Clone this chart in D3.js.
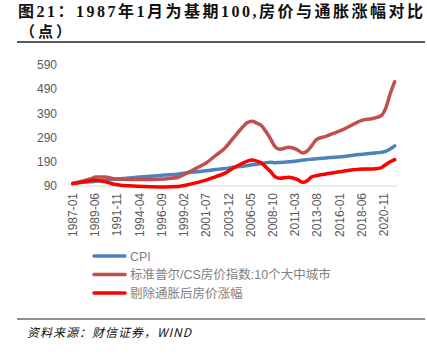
<!DOCTYPE html>
<html>
<head>
<meta charset="utf-8">
<script src="https://cdn.jsdelivr.net/npm/d3@7"></script>
<style>
  body { margin: 0; background: #fff; }
  svg { display: block; }
</style>
</head>
<body>
<svg id="chart" width="427" height="358"></svg>
<script>
// months since 1987-01 where values were read
var months = [0, 12, 24, 30, 42, 54, 66, 84, 102, 120, 138, 150, 162, 174, 186, 198, 210, 222, 228, 234,
              240, 246, 252, 258, 264, 270, 282, 294, 300, 306, 312, 318, 330, 342, 354, 366, 378, 390, 402, 408, 414, 420];

var cpi = [100, 104, 108, 110, 114, 118, 121, 126, 130, 135, 140, 145, 149, 153, 158, 162, 168, 172, 175, 178,
           180, 183, 186, 188, 186, 187, 190, 194, 197, 199, 201, 203, 206, 209, 212, 217, 221, 225, 229, 233, 243, 256];

var csIndex = [100, 110, 120, 127, 127, 120, 118, 117, 117, 119, 127, 145, 165, 185, 215, 245, 290, 335, 352, 358,
               350, 340, 315, 285, 252, 242, 250, 238, 226, 235, 258, 282, 295, 310, 325, 345, 362, 368, 380, 410, 470, 521];

var realPrice = [100, 106, 112, 114, 108, 97, 92, 89, 87, 86, 88, 95, 104, 114, 128, 142, 165, 185, 193, 197,
                 193, 185, 168, 150, 128, 122, 126, 115, 105, 112, 128, 133, 140, 146, 152, 157, 160, 160, 165, 178, 190, 199];

var yTicks = [90, 190, 290, 390, 490, 590];
var xTickMonths = [0, 29, 58, 87, 116, 145, 174, 203, 232, 261, 290, 319, 348, 377, 406];

var seriesNames = ['CPI', '标准普尔/CS房价指数:10个大中城市', '剔除通胀后房价涨幅'];
var seriesColors = ['#4f81bd', '#c0504d', '#ff0000'];
var seriesValues = [cpi, csIndex, realPrice];

var svg = d3.select('#chart');
var latin = '"Liberation Sans", "Noto Sans CJK SC", sans-serif';

// title
svg.append('text')
   .attr('x', 18)
   .attr('y', 17)
   .style('font-family', '"Liberation Serif", "Noto Sans CJK SC", serif')
   .style('font-weight', 'bold')
   .style('font-size', '16px')
   .style('letter-spacing', '2.5px')
   .attr('fill', '#111')
   .text('图21：1987年1月为基期100,房价与通胀涨幅对比');

svg.append('text')
   .attr('x', 20)
   .attr('y', 37)
   .style('font-family', '"Noto Sans CJK SC", serif')
   .style('font-weight', 'bold')
   .style('font-size', '15px')
   .style('letter-spacing', '3px')
   .attr('fill', '#111')
   .text('（点）');

svg.append('line')
   .attr('x1', 17).attr('x2', 425)
   .attr('y1', 42).attr('y2', 42)
   .attr('stroke', '#222')
   .attr('stroke-width', 1.5);

var x = d3.scaleLinear()
    .domain([0, 406])
    .range([72.7, 384]);

var y = d3.scaleLinear()
    .domain([90, 590])
    .range([186, 65]);

// y tick labels
svg.append('g')
   .selectAll('text')
   .data(yTicks)
   .enter().append('text')
   .attr('x', 57)
   .attr('y', function(d) { return y(d); })
   .attr('dy', '0.35em')
   .attr('text-anchor', 'end')
   .style('font-family', latin)
   .style('font-size', '12px')
   .attr('fill', '#595959')
   .text(function(d) { return d; });

// x axis line
svg.append('line')
   .attr('x1', 70).attr('x2', 397)
   .attr('y1', y(90)).attr('y2', y(90))
   .attr('stroke', '#d9d9d9')
   .attr('stroke-width', 1);

function monthLabel(m) {
   var yr = 1987 + Math.floor(m / 12);
   var mo = (m % 12) + 1;
   return yr + '-' + (mo < 10 ? '0' + mo : mo);
}

svg.append('g')
   .selectAll('text')
   .data(xTickMonths)
   .enter().append('text')
   .attr('transform', function(d) { return 'translate(' + x(d) + ',193) rotate(-90)'; })
   .attr('dy', '0.35em')
   .attr('text-anchor', 'end')
   .style('font-family', latin)
   .style('font-size', '12px')
   .attr('fill', '#595959')
   .text(monthLabel);

var line = d3.line()
    .x(function(d) { return x(d[0]); })
    .y(function(d) { return y(d[1]); })
    .curve(d3.curveMonotoneX);

seriesValues.forEach(function(vals, i) {
   svg.append('path')
      .datum(months.map(function(m, j) { return [m, vals[j]]; }))
      .attr('d', line)
      .attr('fill', 'none')
      .attr('stroke', seriesColors[i])
      .attr('stroke-width', 3.5)
      .attr('stroke-linejoin', 'round')
      .attr('stroke-linecap', 'round');
});

// legend
var legend = svg.append('g')
    .selectAll('g')
    .data(seriesNames)
    .enter().append('g')
    .attr('transform', function(d, i) { return 'translate(0,' + (256 + i * 18.5) + ')'; });

legend.append('line')
   .attr('x1', 94).attr('x2', 125)
   .attr('stroke', function(d, i) { return seriesColors[i]; })
   .attr('stroke-width', 3.5)
   .attr('stroke-linecap', 'round');

legend.append('text')
   .attr('x', 130)
   .attr('dy', '0.36em')
   .style('font-family', latin)
   .style('font-size', '12.5px')
   .attr('fill', '#7f7f7f')
   .text(function(d) { return d; });

// source
svg.append('line')
   .attr('x1', 17).attr('x2', 425)
   .attr('y1', 319).attr('y2', 319)
   .attr('stroke', '#222')
   .attr('stroke-width', 1.2);

svg.append('text')
   .attr('x', 27)
   .attr('y', 337)
   .style('font-family', '"Noto Sans CJK SC", "Liberation Serif", serif')
   .style('font-style', 'italic')
   .style('font-size', '12px')
   .style('letter-spacing', '1px')
   .attr('fill', '#111')
   .text('资料来源：财信证券，WIND');
</script>
</body>
</html>
